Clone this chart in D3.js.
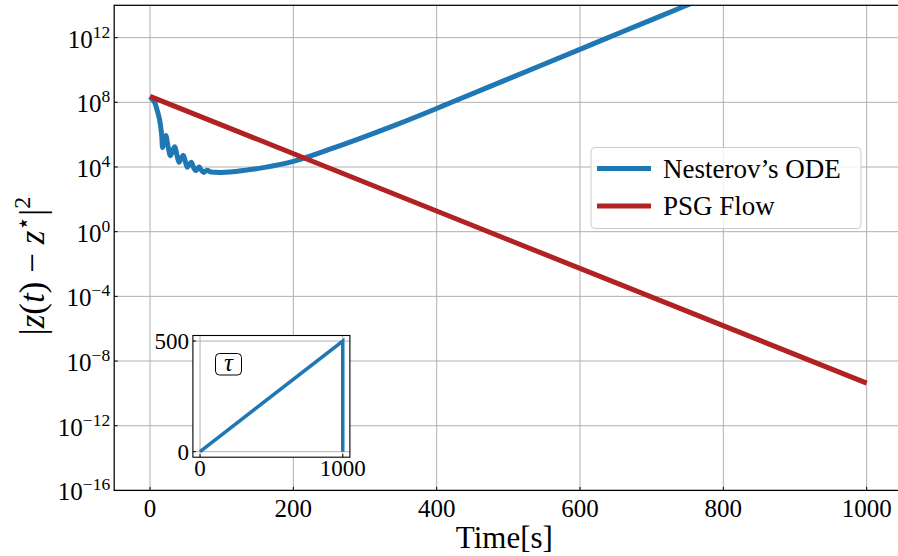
<!DOCTYPE html>
<html>
<head>
<meta charset="utf-8">
<script src="https://cdn.jsdelivr.net/npm/d3@7"></script>
<style>
  html, body { margin: 0; padding: 0; background: #fff; overflow: hidden; }
  svg { display: block; font-family: "Liberation Serif", "DejaVu Serif", serif; }
</style>
</head>
<body>
<svg id="chart" width="898" height="556"></svg>
<script>
// ---- data (exponents: value = 10^exp) ----
const nesterovT = [0, 3, 7, 10, 13, 16.3, 17.6, 19.5, 22, 25, 28.5, 31.5, 34.5, 37.5, 40.5, 43.5, 46.5, 49.5, 52, 54.5, 57.5, 60.5, 63.5, 66, 68.5, 71.5, 75, 77.5, 80, 84, 90, 100, 112, 130, 158, 200, 251, 298, 344, 400, 420, 500, 599, 660, 749, 780];
const nesterovExp = [8.35, 8.2, 7.94, 7.5, 7.0, 5.97, 5.2, 5.55, 5.95, 5.3, 4.7, 5.0, 5.25, 4.75, 4.3, 4.55, 4.72, 4.3, 3.98, 4.15, 4.3, 4.0, 3.78, 3.9, 4.0, 3.8, 3.66, 3.75, 3.8, 3.7, 3.68, 3.66, 3.69, 3.78, 3.96, 4.35, 5.1, 5.85, 6.62, 7.62, 7.99, 9.45, 11.26, 12.38, 14.0, 14.57];
const psgT = [0, 250, 500, 750, 1000];
const psgExp = [8.37, 3.94, -0.5, -4.93, -9.37];
const tauT = [0, 1000, 1000];
const tauV = [0, 500, 0];

const xTicks = [0, 200, 400, 600, 800, 1000];
const yTickExp = [-16, -12, -8, -4, 0, 4, 8, 12];
const insetXTicks = [0, 1000];
const insetYTicks = [0, 500];
const seriesNames = ["Nesterov\u2019s ODE", "PSG Flow"];
const seriesColors = ["#1f77b4", "#b22222"];

// ---- layout ----
const svg = d3.select("#chart");
const x = d3.scaleLinear().domain([-50, 1050]).range([114.2, 902.5]);
const y = d3.scaleLog().domain([1e-16, 1e14]).range([490.4, 5.3]);
const plotL = 114.2, plotR = 902.5, plotT = 5.3, plotB = 490.4;
const gridColor = "#b0b0b0";

svg.append("defs").append("clipPath").attr("id", "clipMain")
  .append("rect").attr("x", plotL).attr("y", plotT).attr("width", plotR - plotL).attr("height", plotB - plotT);

// grid
const grid = svg.append("g");
xTicks.forEach(t => grid.append("line").attr("x1", x(t)).attr("x2", x(t)).attr("y1", plotT).attr("y2", plotB)
  .attr("stroke", gridColor).attr("stroke-width", 1));
yTickExp.forEach(e => grid.append("line").attr("x1", plotL).attr("x2", plotR).attr("y1", y(Math.pow(10, e))).attr("y2", y(Math.pow(10, e)))
  .attr("stroke", gridColor).attr("stroke-width", 1));

// lines
const nesterov = nesterovT.map((t, i) => [t, Math.pow(10, nesterovExp[i])]);
const psg = psgT.map((t, i) => [t, Math.pow(10, psgExp[i])]);
const line = d3.line().x(d => x(d[0])).y(d => y(d[1])).curve(d3.curveCatmullRom.alpha(0.5));
const lines = svg.append("g").attr("clip-path", "url(#clipMain)");
lines.append("path").datum(nesterov).attr("d", line).attr("fill", "none")
  .attr("stroke", seriesColors[0]).attr("stroke-width", 5).attr("stroke-linejoin", "round").attr("stroke-linecap", "butt");
lines.append("path").datum(psg).attr("d", d3.line().x(d => x(d[0])).y(d => y(d[1])))
  .attr("fill", "none").attr("stroke", seriesColors[1]).attr("stroke-width", 5).attr("stroke-linecap", "butt");

// spines
svg.append("rect").attr("x", plotL).attr("y", plotT).attr("width", plotR - plotL).attr("height", plotB - plotT)
  .attr("fill", "none").attr("stroke", "#000").attr("stroke-width", 1.25);

// ticks (inward)
const tickG = svg.append("g");
xTicks.forEach(t => {
  tickG.append("line").attr("x1", x(t)).attr("x2", x(t)).attr("y1", plotB).attr("y2", plotB - 3.5).attr("stroke", "#000").attr("stroke-width", 1);
  tickG.append("text").attr("x", x(t)).attr("y", plotB + 27).attr("text-anchor", "middle")
    .attr("font-size", 25).text(t);
});
yTickExp.forEach(e => {
  const yy = y(Math.pow(10, e));
  tickG.append("line").attr("x1", plotL).attr("x2", plotL + 3.5).attr("y1", yy).attr("y2", yy).attr("stroke", "#000").attr("stroke-width", 1);
  const tx = tickG.append("text").attr("x", plotL - 4).attr("y", yy + 10).attr("text-anchor", "end").attr("font-size", 25);
  tx.append("tspan").text("10");
  tx.append("tspan").attr("dy", -10).attr("font-size", 17.5).text(e < 0 ? "\u2212" + Math.abs(e) : String(e));
});

// axis labels
svg.append("text").attr("x", (x(-50) + x(1050)) / 2 - 4).attr("y", 548).attr("text-anchor", "middle")
  .attr("font-size", 31).text("Time[s]");
const yl = svg.append("text").attr("transform", "translate(44,266) rotate(-90)").attr("text-anchor", "middle").attr("font-size", 35);
yl.append("tspan").text("|");
yl.append("tspan").attr("font-style", "italic").text("z");
yl.append("tspan").text("(");
yl.append("tspan").attr("font-style", "italic").text("t");
yl.append("tspan").text(") \u2212 ");
yl.append("tspan").attr("font-style", "italic").text("z");
yl.append("tspan").attr("dy", -13).attr("font-size", 24).text("\u22c6");
yl.append("tspan").attr("dy", 13).text("|");
yl.append("tspan").attr("dy", -14).attr("font-size", 24).text("2");

// legend
const lg = svg.append("g");
lg.append("rect").attr("x", 591).attr("y", 147.5).attr("width", 270).attr("height", 81).attr("rx", 4)
  .attr("fill", "#fff").attr("fill-opacity", 0.8).attr("stroke", "#cccccc").attr("stroke-width", 1);
seriesNames.forEach((n, i) => {
  const yy = 168.5 + i * 37.5;
  lg.append("line").attr("x1", 597).attr("x2", 651).attr("y1", yy).attr("y2", yy)
    .attr("stroke", seriesColors[i]).attr("stroke-width", 5);
  lg.append("text").attr("x", 663).attr("y", yy + 9).attr("font-size", 27).text(n);
});

// inset
const ix = d3.scaleLinear().domain([-50, 1050]).range([192.9, 349.9]);
const iy = d3.scaleLinear().domain([-25, 525]).range([457.2, 335.5]);
const inset = svg.append("g");
inset.append("rect").attr("x", 192.9).attr("y", 335.5).attr("width", 349.9 - 192.9).attr("height", 457.2 - 335.5).attr("fill", "#fff");
insetXTicks.forEach(t => inset.append("line").attr("x1", ix(t)).attr("x2", ix(t)).attr("y1", 335.5).attr("y2", 457.2)
  .attr("stroke", gridColor).attr("stroke-width", 1));
insetYTicks.forEach(v => inset.append("line").attr("x1", 192.9).attr("x2", 349.9).attr("y1", iy(v)).attr("y2", iy(v))
  .attr("stroke", gridColor).attr("stroke-width", 1));
const tauData = tauT.map((t, i) => [t, tauV[i]]);
inset.append("path").datum(tauData).attr("d", d3.line().x(d => ix(d[0])).y(d => iy(d[1])))
  .attr("fill", "none").attr("stroke", seriesColors[0]).attr("stroke-width", 3.5).attr("stroke-linejoin", "miter");
inset.append("rect").attr("x", 192.9).attr("y", 335.5).attr("width", 349.9 - 192.9).attr("height", 457.2 - 335.5)
  .attr("fill", "none").attr("stroke", "#000").attr("stroke-width", 1.1);
insetXTicks.forEach(t => {
  inset.append("line").attr("x1", ix(t)).attr("x2", ix(t)).attr("y1", 457.2).attr("y2", 454).attr("stroke", "#000");
  inset.append("text").attr("x", ix(t)).attr("y", 476).attr("text-anchor", "middle").attr("font-size", 23).text(t);
});
insetYTicks.forEach(v => {
  inset.append("line").attr("x1", 192.9).attr("x2", 196).attr("y1", iy(v)).attr("y2", iy(v)).attr("stroke", "#000");
  inset.append("text").attr("x", 189).attr("y", iy(v) + 8).attr("text-anchor", "end").attr("font-size", 23).text(v);
});
inset.append("rect").attr("x", 215.5).attr("y", 353.5).attr("width", 26).attr("height", 21.5).attr("rx", 4)
  .attr("fill", "#fff").attr("stroke", "#000").attr("stroke-width", 1);
inset.append("text").attr("x", 228.5).attr("y", 370.5).attr("text-anchor", "middle").attr("font-size", 25)
  .attr("font-style", "italic").text("\u03c4");
</script>
</body>
</html>
